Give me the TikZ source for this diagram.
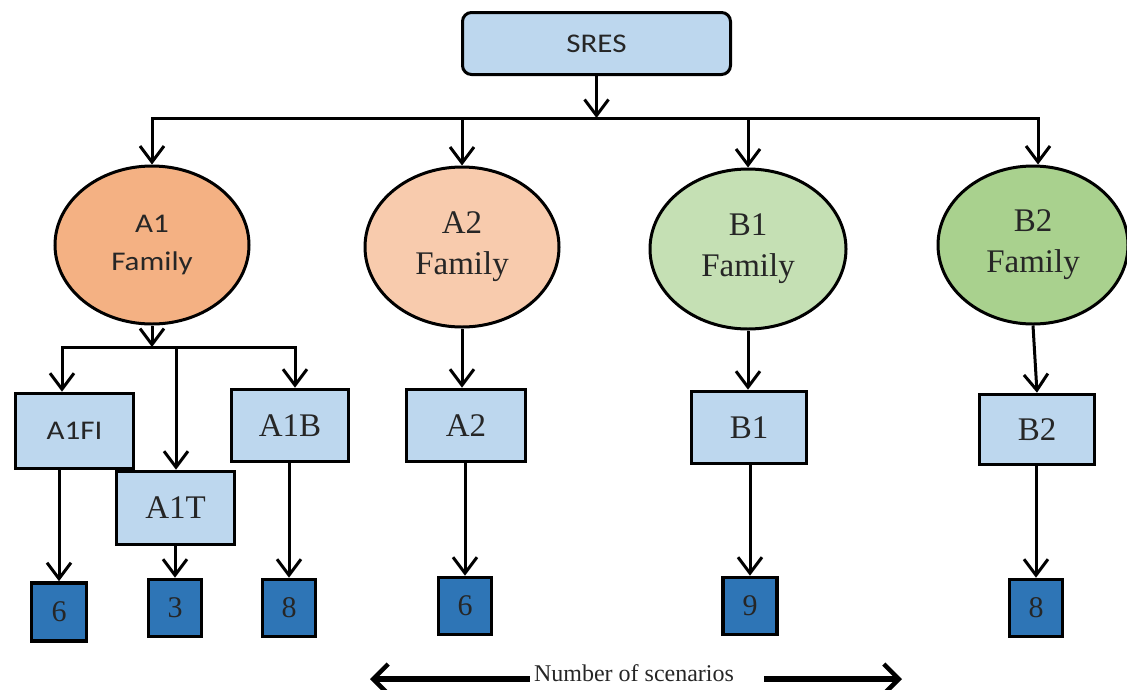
\documentclass[tikz,border=0pt]{standalone}
\usepackage{fontspec}
\setmainfont{Liberation Serif}
\newfontfamily\sanslab[FakeStretch=1.15]{Carlito}
\usetikzlibrary{shapes.geometric,arrows.meta,calc}

\definecolor{boxblue}{HTML}{BDD7EE}
\definecolor{darkblue}{HTML}{2E75B6}
\definecolor{famaone}{HTML}{F4B183}
\definecolor{famatwo}{HTML}{F8CBAD}
\definecolor{fambone}{HTML}{C5E0B4}
\definecolor{fambtwo}{HTML}{A9D18E}

\tikzset{
  every node/.style={text=black!85},
  topbox/.style={draw, line width=3pt, rounded corners=9pt, fill=boxblue,
    minimum width=268pt, minimum height=62pt, inner sep=0pt,
    font=\sanslab\fontsize{27}{30}\selectfont},
  family/.style={draw, line width=3pt, ellipse, inner sep=0pt, align=center},
  serifbig/.style={font=\fontsize{33}{41}\selectfont},
  sansbig/.style={font=\sanslab\fontsize{27}{38}\selectfont},
  scenbox/.style={draw, line width=3.6pt, fill=boxblue, inner sep=0pt,
    minimum width=116pt, minimum height=71pt},
  countbox/.style={draw, line width=3.6pt, fill=darkblue, inner sep=0pt,
    minimum width=53pt, minimum height=57pt, font=\fontsize{30}{32}\selectfont},
  link/.style={line width=3pt},
  arr/.style={link, -{Straight Barb[length=16pt,width=24pt,line width=3pt]}},
  bigarr/.style={line width=5.5pt, -{Straight Barb[length=15pt,width=30pt,line width=4.5pt]}},
}

\begin{document}
\begin{tikzpicture}[x=1pt,y=-1pt]
  \useasboundingbox (0,0) rectangle (1127,689);

  % root
  \node[topbox] (sres) at (596.5,43.5) {SRES};

  % scenario families
  \node[family, fill=famaone, minimum width=194pt, minimum height=158pt, sansbig] (a1) at (152,245) {A1\\Family};
  \node[family, fill=famatwo, minimum width=194pt, minimum height=160pt, serifbig] (a2) at (462,247) {A2\\Family};
  \node[family, fill=fambone, minimum width=196pt, minimum height=160pt, serifbig] (b1) at (748,249) {B1\\Family};
  \node[family, fill=fambtwo, minimum width=190pt, minimum height=158pt, serifbig] (b2) at (1033,245) {B2\\Family};

  % storylines
  \node[scenbox, minimum width=118pt, minimum height=75pt, font=\sanslab\fontsize{27}{30}\selectfont] (a1fi) at (74.5,431) {A1FI};
  \node[scenbox, minimum width=118pt, minimum height=73pt, serifbig] (a1t) at (175.5,508) {A1T};
  \node[scenbox, minimum width=117pt, minimum height=72pt, serifbig] (a1b) at (290,425.5) {A1B};
  \node[scenbox, minimum width=119pt, minimum height=72pt, serifbig] (a2b) at (466,425.5) {A2};
  \node[scenbox, minimum width=115pt, minimum height=72pt, serifbig] (b1b) at (749,427.5) {B1};
  \node[scenbox, minimum width=115pt, minimum height=70pt, serifbig] (b2b) at (1037,429.5) {B2};

  % scenario counts
  \node[countbox, minimum width=55pt, minimum height=58pt] (n1) at (59,612) {6};
  \node[countbox] (n2) at (175,608) {3};
  \node[countbox] (n3) at (289,608) {8};
  \node[countbox] (n4) at (465,606) {6};
  \node[countbox, minimum width=54pt] (n5) at (750,606) {9};
  \node[countbox] (n6) at (1036,608) {8};

  % root to families
  \coordinate (hub) at (596.5,118);
  \coordinate (hubL) at (152,118);
  \coordinate (hubR) at (1038,118);
  \draw[arr] (sres.south) -- (hub);
  \draw[link, line cap=rect] (hubL) -- (hubR);
  \draw[arr] (a1 |- hub) -- (a1.north);
  \draw[arr] (a2 |- hub) -- (a2.north);
  \draw[arr] (b1 |- hub) -- (b1.north);
  \draw[arr] (hubR) -- (hubR |- b2.north);

  % A1 family branches
  \coordinate (br) at (152,347);
  \coordinate (brL) at (62,347);
  \coordinate (brM) at (176,347);
  \coordinate (brR) at (295,347);
  \draw[arr] (a1.south) -- (br);
  \draw[link, line cap=rect] (brL) -- (brR);
  \draw[arr] (brL) -- (brL |- a1fi.north);
  \draw[arr] (brM) -- (brM |- a1t.north);
  \draw[arr] (brR) -- (brR |- a1b.north);

  % other families to storylines
  \draw[arr] (a2.south) -- (a2.south |- a2b.north);
  \draw[arr] (b1.south) -- (b1.south |- b1b.north);
  \draw[arr] (b2.south) -- (b2b.north);

  % storylines to counts
  \draw[arr] (n1 |- a1fi.south) -- (n1.north);
  \draw[arr] (n2 |- a1t.south) -- (n2.north);
  \draw[arr] (n3 |- a1b.south) -- (n3.north);
  \draw[arr] (n4 |- a2b.south) -- (n4.north);
  \draw[arr] (n5 |- b1b.south) -- (n5.north);
  \draw[arr] (n6 |- b2b.south) -- (n6.north);

  % axis caption
  \node[font=\fontsize{24}{28}\selectfont, inner sep=0pt] (cap) at (634,673) {Number of scenarios};
  \coordinate (axL) at (370,679);
  \coordinate (axR) at (902,679);
  \draw[bigarr] ($(cap.west |- axL)+(-4,0)$) -- (axL);
  \draw[bigarr] ($(cap.east |- axR)+(30,0)$) -- (axR);
\end{tikzpicture}
\end{document}
